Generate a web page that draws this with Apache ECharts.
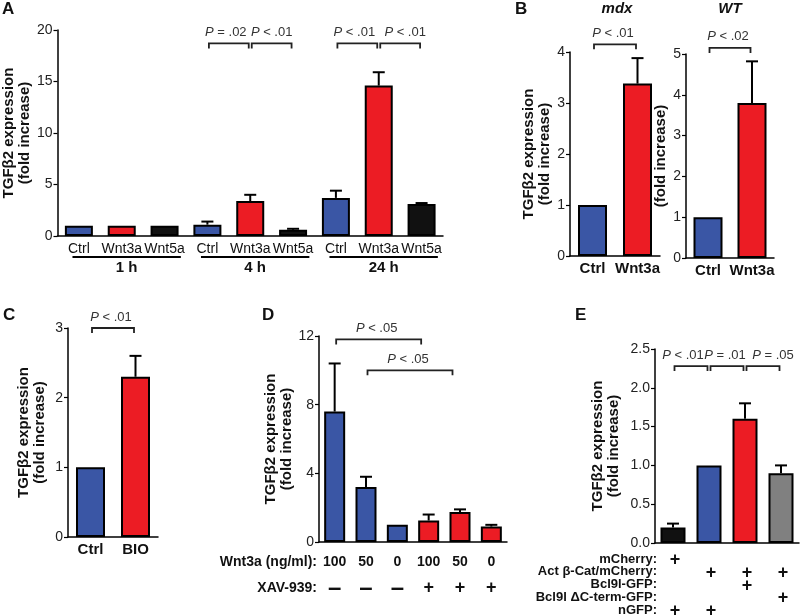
<!DOCTYPE html>
<html lang="en">
<head>
<meta charset="UTF-8">
<script src="https://cdn.jsdelivr.net/npm/echarts@6/dist/echarts.min.js"></script>
<title>TGFb2 expression</title>
</head>
<body style="margin:0;background:#fff">
<div id="main" style="width:800px;height:616px;"></div>
<script type="text/javascript">
// ---- data ----
// A: time course
var aCats = ['Ctrl', 'Wnt3a', 'Wnt5a', 'Ctrl', 'Wnt3a', 'Wnt5a', 'Ctrl', 'Wnt3a', 'Wnt5a'];
var aMeans = [1.0, 1.0, 1.0, 1.1, 3.4, 0.6, 3.7, 14.6, 3.1];
var aTops = [1.05, 1.05, 1.05, 1.4, 4.0, 0.7, 4.4, 15.9, 3.2];
var aGroups = ['1 h', '4 h', '24 h'];
var aBrackets = [[3, 4, 18.7, '= .02'], [4, 5, 18.7, '< .01'], [6, 7, 18.7, '< .01'], [7, 8, 18.7, '< .01']];
// B: mdx / WT
var bCats = ['Ctrl', 'Wnt3a'];
var bMdxMeans = [1.0, 3.38];
var bMdxTops = [1.0, 3.88];
var bWtMeans = [1.0, 3.8];
var bWtTops = [1.0, 4.82];
var bMdxBrackets = [[0, 1, 4.15, '< .01']];
var bWtBrackets = [[0, 1, 5.15, '< .02']];
// C: BIO
var cCats = ['Ctrl', 'BIO'];
var cMeans = [1.0, 2.3];
var cTops = [1.0, 2.6];
var cBrackets = [[0, 1, 3.0, '< .01']];
// D: Wnt3a dose +/- XAV-939
var dDoses = ['100', '50', '0', '100', '50', '0'];
var dXav = ['–', '–', '–', '+', '+', '+'];
var dMeans = [7.6, 3.2, 1.0, 1.25, 1.75, 0.9];
var dTops = [10.4, 3.8, 1.0, 1.6, 1.9, 1.0];
var dBrackets = [[0, 3, 11.8, '< .05'], [1, 4, 10.0, '< .05']];
// E: constructs
var eRowNames = ['mCherry:', 'Act β-Cat/mCherry:', 'Bcl9l-GFP:', 'Bcl9l ΔC-term-GFP:', 'nGFP:'];
var eRows = [
    [1, 0, 0, 0],
    [0, 1, 1, 1],
    [0, 0, 1, 0],
    [0, 0, 0, 1],
    [1, 1, 0, 0]
];
var eMeans = [0.2, 1.0, 1.6, 0.9];
var eTops = [0.25, 1.0, 1.8, 1.0];
var eBrackets = [[0, 1, 2.28, '< .01'], [1, 2, 2.28, '= .01'], [2, 3, 2.28, '= .05']];

// ---- styles ----
var FONT = '"Liberation Sans", Arial, sans-serif';
var BLUE = '#3a56a5', RED = '#ec1c24', BLACK = '#111111', GREY = '#808080';
var YNAME = 'TGFβ2 expression\n(fold increase)';
// horizontal nudges (px) for the P-value texts and bracket right ends
var aTextShift = [-3, 0, -3, 5];
var eTextShift = [-8, -2, 10];
var dEndShift = -6;

var myChart = echarts.init(document.getElementById('main'));

function xAxis(gi, cats, extra) {
    var ax = {
        type: 'category', gridIndex: gi, data: cats,
        axisLine: {lineStyle: {color: '#000', width: 1.5}},
        axisTick: {alignWithLabel: true, length: 4, lineStyle: {color: '#000', width: 1.2}},
        axisLabel: {interval: 0, color: '#111', fontFamily: FONT, fontSize: 15, fontWeight: 'bold', margin: 5}
    };
    return Object.assign(ax, extra || {});
}

function yAxis(gi, max, interval, gap, fmt) {
    return {
        type: 'value', gridIndex: gi, min: 0, max: max, interval: interval,
        name: YNAME, nameLocation: 'middle', nameRotate: 90, nameGap: gap,
        nameTextStyle: {fontFamily: FONT, fontSize: 15, fontWeight: 'bold', color: '#111', lineHeight: 16},
        axisLine: {show: true, lineStyle: {color: '#000', width: 1.5}},
        axisTick: {show: true, length: 4, lineStyle: {color: '#000', width: 1.2}},
        axisLabel: {color: '#222', fontFamily: FONT, fontSize: 14, margin: 5, formatter: fmt},
        splitLine: {show: false}
    };
}

function bars(gi, means, width, colorFn) {
    return {
        type: 'bar', xAxisIndex: gi, yAxisIndex: gi, barWidth: width,
        data: means.map(function (v, i) {
            return {value: v, itemStyle: {color: colorFn(i)}};
        }),
        itemStyle: {borderColor: '#000', borderWidth: 2},
        z: 2
    };
}

function errors(gi, means, tops) {
    return {
        type: 'custom', xAxisIndex: gi, yAxisIndex: gi, z: 3,
        data: means.map(function (v, i) { return [i, v, tops[i]]; }),
        renderItem: function (params, api) {
            var base = api.coord([api.value(0), api.value(1)]);
            var top = api.coord([api.value(0), api.value(2)]);
            if (base[1] - top[1] < 1) return;
            var st = {stroke: '#000', lineWidth: 2};
            return {type: 'group', children: [
                {type: 'line', shape: {x1: base[0], y1: base[1], x2: top[0], y2: top[1]}, style: st},
                {type: 'line', shape: {x1: top[0] - 6, y1: top[1], x2: top[0] + 6, y2: top[1]}, style: st}
            ]};
        }
    };
}

function brackets(gi, list, textShift, endShift) {
    return {
        type: 'custom', xAxisIndex: gi, yAxisIndex: gi, z: 4, clip: false,
        data: list.map(function (b) { return [b[0], b[1], b[2]]; }),
        renderItem: function (params, api) {
            var p1 = api.coord([api.value(0), api.value(2)]);
            var p2 = api.coord([api.value(1), api.value(2)]);
            var x1 = p1[0] + 1.5, x2 = p2[0] - 1.5 + (endShift || 0), y = p1[1];
            var dx = textShift ? textShift[params.dataIndex] : -2;
            return {type: 'group', children: [
                {type: 'polyline', shape: {points: [[x1, y + 5], [x1, y], [x2, y], [x2, y + 5]]},
                    style: {stroke: '#222', lineWidth: 1.8, fill: null}},
                {type: 'text', x: (x1 + x2) / 2 + dx, y: y - 11,
                    style: {text: '{i|P} ' + list[params.dataIndex][3], align: 'center', verticalAlign: 'middle',
                        fontFamily: FONT, fontSize: 13, fill: '#333',
                        rich: {i: {fontStyle: 'italic', fontFamily: FONT, fontSize: 13, fill: '#333'}}}}
            ]};
        }
    };
}

// group lines under A
var aGroupSeries = {
    type: 'custom', xAxisIndex: 0, yAxisIndex: 0, clip: false,
    data: aGroups.map(function (g, i) { return [i * 3, i * 3 + 2]; }),
    renderItem: function (params, api) {
        var bw = api.size([1, 0])[0];
        var p1 = api.coord([api.value(0), 0]);
        var p2 = api.coord([api.value(1), 0]);
        var x1 = p1[0] - bw * 0.15, x2 = p2[0] + bw * 0.38, y = p1[1] + 21;
        return {type: 'group', children: [
            {type: 'line', shape: {x1: x1, y1: y, x2: x2, y2: y}, style: {stroke: '#000', lineWidth: 2}},
            {type: 'text', x: (x1 + x2) / 2, y: y + 11,
                style: {text: aGroups[params.dataIndex], align: 'center', verticalAlign: 'middle',
                    fontFamily: FONT, fontSize: 15, fontWeight: 'bold', fill: '#111'}}
        ]};
    }
};

// plus marks under E
var ePlusData = [];
eRows.forEach(function (row, r) {
    row.forEach(function (on, c) { if (on) ePlusData.push([c, r]); });
});
var ePlusSeries = {
    type: 'custom', xAxisIndex: 5, yAxisIndex: 5, clip: false,
    data: ePlusData,
    renderItem: function (params, api) {
        var p = api.coord([api.value(0), 0]);
        return {type: 'text', x: p[0] + 2, y: p[1] + 17 + api.value(1) * 12.8,
            style: {text: '+', align: 'center', verticalAlign: 'middle',
                fontFamily: FONT, fontSize: 18, fontWeight: 'bold', fill: '#111'}};
    }
};

function byName(i, cats) {
    return cats[i] === 'Ctrl' ? BLUE : (cats[i] === 'Wnt5a' ? BLACK : RED);
}

function label(x, y, text, extra) {
    return {type: 'text', x: x, y: y, style: Object.assign({
        text: text, fontFamily: FONT, fontSize: 13, fontWeight: 'bold', fill: '#111',
        verticalAlign: 'middle'}, extra || {})};
}

var graphics = [
    label(2, 9, 'A', {fontSize: 17}),
    label(515, 9, 'B', {fontSize: 17}),
    label(3, 315, 'C', {fontSize: 17}),
    label(262, 315, 'D', {fontSize: 17}),
    label(575, 315, 'E', {fontSize: 17}),
    label(617, 9, 'mdx', {fontSize: 15, fontStyle: 'italic', align: 'center'}),
    label(730, 9, 'WT', {fontSize: 15, fontStyle: 'italic', align: 'center'}),
    label(317, 562, 'Wnt3a (ng/ml):', {fontSize: 14, align: 'right'}),
    label(317, 588, 'XAV-939:', {fontSize: 14, align: 'right'})
];
eRowNames.forEach(function (n, r) {
    graphics.push(label(657, 559 + r * 12.8, n, {fontSize: 13, align: 'right'}));
});

var option = {
    animation: false,
    backgroundColor: '#fff',
    graphic: graphics,
    grid: [
        {left: 53, top: 30, width: 390, height: 206},
        {left: 570, top: 52, width: 90, height: 204},
        {left: 686, top: 54, width: 88, height: 204},
        {left: 68, top: 328, width: 90, height: 209},
        {left: 319, top: 336, width: 188, height: 206},
        {left: 655, top: 349, width: 144, height: 194}
    ],
    xAxis: [
        xAxis(0, aCats, {axisLabel: {interval: 0, color: '#111', fontFamily: FONT, fontSize: 14, margin: 6}}),
        xAxis(1, bCats),
        xAxis(2, bCats),
        xAxis(3, cCats),
        xAxis(4, dDoses, {axisLabel: {
            interval: 0, color: '#111', fontFamily: FONT, fontSize: 14, fontWeight: 'bold', margin: 7, lineHeight: 26,
            formatter: function (v, i) {
                return v + '\n' + (dXav[i] === '+' ? '{p|+}' : '{m|–}');
            },
            rich: {
                p: {fontFamily: FONT, fontSize: 18, fontWeight: 'bold', color: '#111', lineHeight: 26},
                m: {fontFamily: FONT, fontSize: 24, fontWeight: 'bold', color: '#111', lineHeight: 26}
            }
        }}),
        xAxis(5, eMeans.map(function (v, i) { return String(i); }), {axisLabel: {show: false}})
    ],
    yAxis: [
        yAxis(0, 20, 5, 22),
        yAxis(1, 4, 1, 16),
        yAxis(2, 5, 1, 16, null),
        yAxis(3, 3, 1, 20),
        yAxis(4, 12, 4, 24),
        yAxis(5, 2.5, 0.5, 33, function (v) { return v.toFixed(1); })
    ],
    series: [
        bars(0, aMeans, 28, function (i) { return byName(i, aCats); }),
        errors(0, aMeans, aTops),
        brackets(0, aBrackets, aTextShift),
        aGroupSeries,
        bars(1, bMdxMeans, 29, function (i) { return byName(i, bCats); }),
        errors(1, bMdxMeans, bMdxTops),
        brackets(1, bMdxBrackets),
        bars(2, bWtMeans, 29, function (i) { return byName(i, bCats); }),
        errors(2, bWtMeans, bWtTops),
        brackets(2, bWtBrackets),
        bars(3, cMeans, 29, function (i) { return i === 0 ? BLUE : RED; }),
        errors(3, cMeans, cTops),
        brackets(3, cBrackets),
        bars(4, dMeans, 21, function (i) { return dXav[i] === '+' ? RED : BLUE; }),
        errors(4, dMeans, dTops),
        brackets(4, dBrackets, null, dEndShift),
        bars(5, eMeans, 25, function (i) { return [BLACK, BLUE, RED, GREY][i]; }),
        errors(5, eMeans, eTops),
        brackets(5, eBrackets, eTextShift),
        ePlusSeries
    ]
};

myChart.setOption(option);
</script>
</body>
</html>
